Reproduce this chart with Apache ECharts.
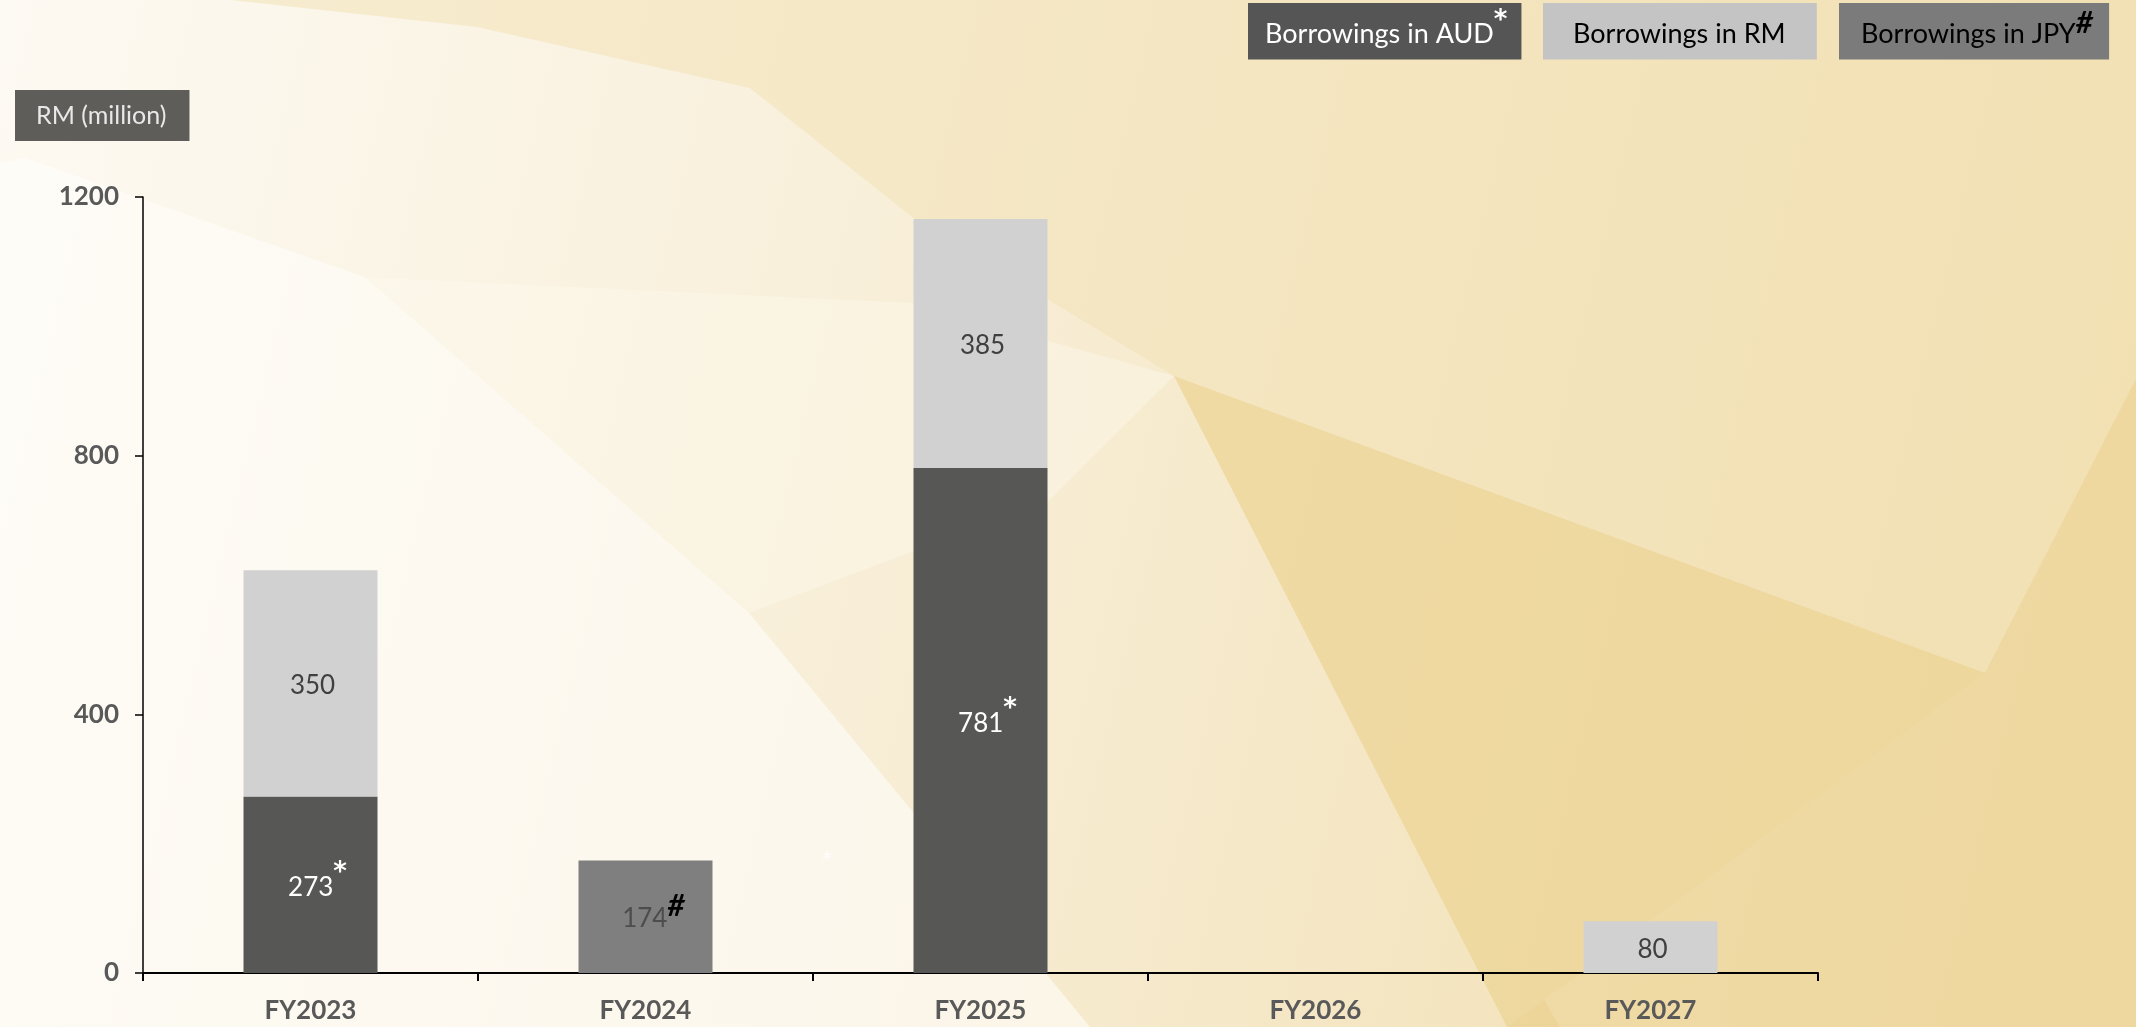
<!DOCTYPE html>
<html>
<head>
<meta charset="utf-8">
<script src="https://cdn.jsdelivr.net/npm/echarts@6/dist/echarts.min.js"></script>
<style>
  html, body { margin: 0; padding: 0; width: 100%; height: 100%; overflow: hidden; }
  #chart { width: 2136px; height: 1027px; }
</style>
</head>
<body>
<div id="chart"></div>
<script>
// Debt maturity profile, RM million
const categories = ['FY2023', 'FY2024', 'FY2025', 'FY2026', 'FY2027'];
const audValues = [273, null, 781, null, null];
const rmValues = [350, null, 385, null, 80];
const jpyValues = [null, 174, null, null, null];

const seriesNames = ['Borrowings in AUD', 'Borrowings in RM', 'Borrowings in JPY'];
const seriesMarks = ['*', '', '#'];

const yMin = 0;
const yMax = 1200;
const yStep = 400;

const FONT = 'Lato';
const MARK_FONT = 'DejaVu Sans';
const AXIS_GREY = '#595959';

const chart = echarts.init(document.getElementById('chart'), null, { renderer: 'canvas' });

// superscript mark: '*' upright, '#' bold italic, both sitting at the top of a tall line
function markStyle(idx, color, size, lineHeight) {
  return seriesMarks[idx] === '#'
    ? { fontFamily: FONT, fontSize: size + 6, color: color, fontWeight: 'bold', fontStyle: 'italic', verticalAlign: 'top', lineHeight: lineHeight }
    : { fontFamily: MARK_FONT, fontSize: size + 2, color: color, fontWeight: 'bold', verticalAlign: 'top', lineHeight: lineHeight };
}

function legendFor(idx, left, bg, color, markColor, padding) {
  return {
    data: [seriesNames[idx]],
    left: left,
    top: 3,
    orient: 'horizontal',
    icon: 'none',
    itemWidth: 0,
    itemHeight: 0,
    itemGap: 0,
    backgroundColor: bg,
    padding: padding,
    selectedMode: false,
    formatter: function (name) {
      const mark = seriesMarks[seriesNames.indexOf(name)];
      return '{t|' + name + '}{s|' + (mark || '\u2009') + '}';
    },
    textStyle: {
      fontFamily: FONT,
      rich: {
        t: { fontFamily: FONT, fontSize: 27, color: color, verticalAlign: 'middle', lineHeight: 52 },
        s: markStyle(idx, markColor, 24, 52)
      }
    }
  };
}

function valueLabel(idx, color, markColor, offset) {
  const mark = seriesMarks[idx];
  return {
    show: true,
    position: 'inside',
    offset: offset,
    formatter: function (p) {
      return '{v|' + p.value + '}' + (mark ? '{s|' + mark + '}' : '');
    },
    rich: {
      v: { fontFamily: FONT, fontSize: 26, color: color, verticalAlign: 'middle', lineHeight: 54 },
      s: markStyle(idx, markColor, 24, 54)
    }
  };
}

const option = {
  animation: false,
  backgroundColor: {
    type: 'linear', x: 0, y: 0, x2: 1, y2: 0.5,
    colorStops: [
      { offset: 0, color: '#fdfaf3' },
      { offset: 0.45, color: '#f8eed7' },
      { offset: 1, color: '#f1deae' }
    ]
  },
  graphic: [
    // decorative facets in the background
    { type: 'polygon', z: -20, silent: true,
      shape: { points: [[231, 0], [2136, 0], [2136, 379], [1985, 673], [1174, 376], [912, 217], [750, 88], [477, 27]] },
      style: { fill: 'rgba(243, 226, 182, 0.55)' } },
    { type: 'polygon', z: -19, silent: true,
      shape: { points: [[0, 163], [25, 158], [365, 277], [749, 613], [1090, 1027], [0, 1027]] },
      style: { fill: 'rgba(255, 254, 250, 0.6)' } },
    { type: 'polygon', z: -18, silent: true,
      shape: { points: [[365, 277], [912, 303], [1174, 376], [1050, 500], [749, 613]] },
      style: { fill: 'rgba(253, 249, 238, 0.4)' } },
    { type: 'polygon', z: -17, silent: true,
      shape: { points: [[1174, 376], [1985, 673], [1544, 1000], [1560, 1027], [1507, 1027]] },
      style: { fill: 'rgba(236, 212, 150, 0.75)' } },
    { type: 'polygon', z: -16, silent: true,
      shape: { points: [[1985, 673], [2136, 379], [2136, 1027], [1507, 1027], [1544, 1000]] },
      style: { fill: 'rgba(236, 211, 150, 0.6)' } },
    { type: 'text', z: 5, silent: true, left: 822, top: 850,
      style: { text: '*', fill: 'rgba(255, 255, 255, 0.9)', font: '20px "DejaVu Sans"' } }
  ],
  title: {
    text: 'RM (million)',
    left: 15,
    top: 90,
    padding: [13, 23, 13, 21],
    backgroundColor: '#5e5d59',
    textStyle: { fontFamily: FONT, fontSize: 25, fontWeight: 'normal', color: '#e8e8e8' }
  },
  legend: [
    legendFor(0, 1248, '#555555', '#ffffff', '#ffffff', [5, 14, 12, 12]),
    legendFor(1, 1543, '#c4c4c4', '#000000', '#000000', [5, 26, 12, 25]),
    legendFor(2, 1839, '#7b7b7b', '#000000', '#000000', [5, 16, 12, 17])
  ],
  grid: { left: 143, right: 318, top: 197, bottom: 54, containLabel: false },
  xAxis: {
    type: 'category',
    data: categories,
    boundaryGap: true,
    axisLine: { show: true, lineStyle: { color: '#000000', width: 2 } },
    axisTick: { show: true, length: 8, inside: false, lineStyle: { color: '#000000', width: 2 } },
    axisLabel: { margin: 25, fontFamily: FONT, fontSize: 26, fontWeight: 'bold', color: AXIS_GREY },
    splitLine: { show: false }
  },
  yAxis: {
    type: 'value',
    min: yMin,
    max: yMax,
    interval: yStep,
    axisLine: { show: true, lineStyle: { color: '#000000', width: 1.5 } },
    axisTick: { show: true, length: 8, inside: false, lineStyle: { color: '#000000', width: 1.5 } },
    axisLabel: {
      margin: 24, fontFamily: FONT, fontSize: 26, fontWeight: 'bold', color: AXIS_GREY,
      formatter: function (v) { return String(v); }
    },
    splitLine: { show: false }
  },
  series: [
    {
      name: seriesNames[0], type: 'bar', stack: 'debt', barWidth: '40%',
      data: audValues,
      itemStyle: { color: '#575756' },
      label: valueLabel(0, '#ffffff', '#ffffff', [7, 3])
    },
    {
      name: seriesNames[1], type: 'bar', stack: 'debt', barWidth: '40%',
      data: rmValues,
      itemStyle: { color: '#d1d1d1' },
      label: valueLabel(1, '#404040', '#404040', [2, 2])
    },
    {
      name: seriesNames[2], type: 'bar', stack: 'debt', barWidth: '40%',
      data: jpyValues,
      itemStyle: { color: '#7f7f7f' },
      label: valueLabel(2, '#4d4d4d', '#000000', [8, 2])
    }
  ]
};

chart.setOption(option);
</script>
</body>
</html>
